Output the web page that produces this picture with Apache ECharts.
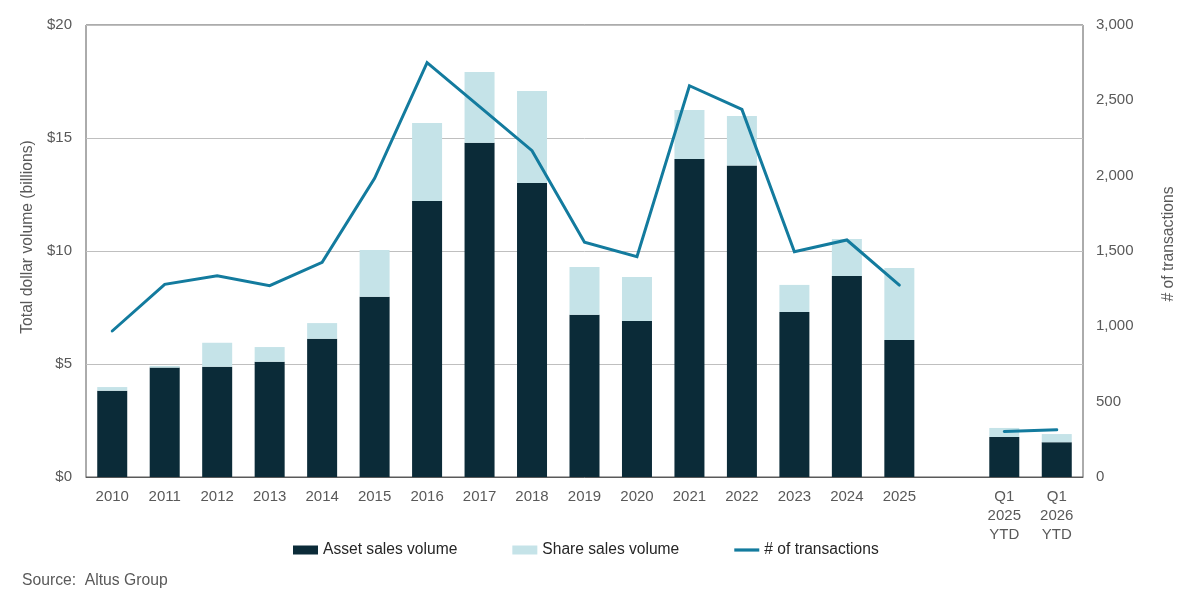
<!DOCTYPE html>
<html>
<head>
<meta charset="utf-8">
<script src="https://cdn.jsdelivr.net/npm/echarts@6/dist/echarts.min.js"></script>
<style>
html,body{margin:0;padding:0;background:#fff;}
#chart{width:1200px;height:609px;}
</style>
</head>
<body>
<div id="chart"></div>
<script>
var categories = ['2010','2011','2012','2013','2014','2015','2016','2017','2018','2019','2020','2021','2022','2023','2024','2025','','Q1\n2025\nYTD','Q1\n2026\nYTD'];
var assetSales = [3.82,4.84,4.88,5.10,6.12,7.98,12.21,14.79,13.01,7.18,6.90,14.07,13.78,7.30,8.89,6.06,null,1.77,1.54];
var shareSales = [0.16,0.07,1.06,0.65,0.69,2.06,3.45,3.13,4.07,2.11,1.95,2.17,2.19,1.20,1.64,3.19,null,0.40,0.36];
var transactions = [969,1279,1336,1270,1425,1982,2750,2458,2166,1558,1462,2597,2440,1495,1573,1274,null,302,314];
var leftTicks = [0,5,10,15,20];
var rightTicks = [0,500,1000,1500,2000,2500,3000];

var font = '"Liberation Sans", Arial, sans-serif';
var txt = '#595959';
var chart = echarts.init(document.getElementById('chart'));
chart.setOption({
  animation: false,
  textStyle: {fontFamily: font},
  grid: {left: 86, right: 117, top: 25, bottom: 132, show: true, borderColor: '#595959', borderWidth: 1, containLabel: false},
  legend: {
    top: 542, left: 293, padding: 0, itemGap: 55, itemWidth: 25, itemHeight: 9,
    textStyle: {fontFamily: font, fontSize: 15.6, color: '#262626'},
    data: [
      {name: 'Asset sales volume', icon: 'rect'},
      {name: 'Share sales volume', icon: 'rect'},
      {name: '# of transactions', icon: 'path://M0,0L25,0L25,3.2L0,3.2Z'}
    ]
  },
  graphic: [{type: 'text', left: 22, top: 573, style: {text: 'Source:  Altus Group', fontFamily: font, fontSize: 15.7, fill: txt}}],
  xAxis: {
    type: 'category', data: categories,
    axisLine: {show: true, lineStyle: {color: '#595959'}},
    axisTick: {show: false},
    axisLabel: {interval: 0, color: txt, fontSize: 15, fontFamily: font, margin: 10, lineHeight: 19}
  },
  yAxis: [
    {
      type: 'value', min: 0, max: 20, interval: 5,
      name: 'Total dollar volume (billions)', nameLocation: 'middle', nameGap: 50, nameRotate: 90,
      nameTextStyle: {color: txt, fontSize: 15.7, fontFamily: font, padding: [0, 0, 0, 28]},
      axisLine: {show: false}, axisTick: {show: false},
      axisLabel: {color: txt, fontSize: 15, fontFamily: font, margin: 14, formatter: function(v){ return '$' + v; }},
      splitLine: {lineStyle: {color: '#bfbfbf'}}
    },
    {
      type: 'value', min: 0, max: 3000, interval: 500,
      name: '# of transactions', nameLocation: 'middle', nameGap: 78, nameRotate: 90,
      nameTextStyle: {color: txt, fontSize: 15.7, fontFamily: font, padding: [0, 0, 0, 14]},
      axisLine: {show: false}, axisTick: {show: false},
      axisLabel: {color: txt, fontSize: 15, fontFamily: font, margin: 13, formatter: function(v){ return v.toLocaleString('en-US'); }},
      splitLine: {show: false}
    }
  ],
  series: [
    {name: 'Asset sales volume', type: 'bar', stack: 'vol', data: assetSales, barWidth: 30, itemStyle: {color: '#0b2b38'}},
    {name: 'Share sales volume', type: 'bar', stack: 'vol', data: shareSales, barWidth: 30, itemStyle: {color: '#c5e3e8'}},
    {name: '# of transactions', type: 'line', yAxisIndex: 1, data: transactions, symbol: 'none', connectNulls: false,
     lineStyle: {color: '#137b9e', width: 3, cap: 'round', join: 'miter'}, itemStyle: {color: '#137b9e'}}
  ]
});
</script>
</body>
</html>
